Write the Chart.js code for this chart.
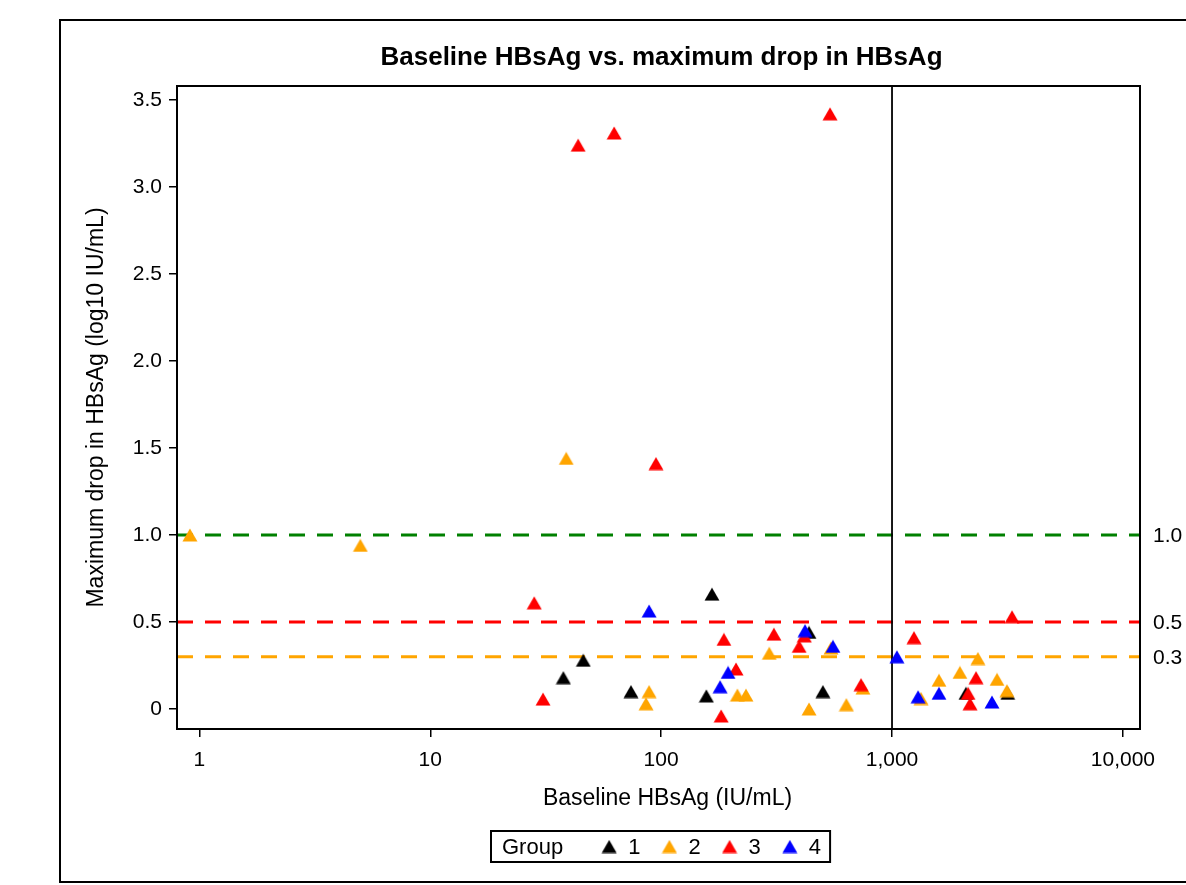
<!DOCTYPE html>
<html>
<head>
<meta charset="utf-8">
<script src="https://cdn.jsdelivr.net/npm/chart.js@4/dist/chart.umd.min.js"></script>
<style>
  html, body { margin: 0; padding: 0; background: #fff; }
  canvas { display: block; }
</style>
</head>
<body>
<canvas id="c" width="1186" height="885"></canvas>
<script>
// ---- Data ----
const groupNames = ['1', '2', '3', '4'];
const groupColors = ['#000000', '#FFA500', '#FF0000', '#0000FF'];

const g1Baseline = [37.7, 46, 74, 157, 166, 437, 502, 2090, 3170];
const g1Drop     = [0.18, 0.28, 0.10, 0.075, 0.66, 0.44, 0.10, 0.09, 0.09];

const g2Baseline = [0.91, 4.98, 38.8, 86, 88.7, 214, 233, 294, 437, 544, 634, 748, 1336, 1597, 1968, 2355, 2850, 3145];
const g2Drop     = [1.0, 0.94, 1.44, 0.03, 0.10, 0.08, 0.08, 0.32, 0.0, 0.35, 0.025, 0.12, 0.06, 0.165, 0.21, 0.29, 0.17, 0.105];

const g3Baseline = [28.2, 30.8, 43.7, 62.6, 95, 182, 187, 211, 308, 396, 417, 539, 734, 1245, 2135, 2177, 2312, 3310];
const g3Drop     = [0.61, 0.057, 3.24, 3.31, 1.41, -0.04, 0.40, 0.23, 0.43, 0.36, 0.42, 3.42, 0.14, 0.41, 0.09, 0.03, 0.18, 0.53];

const g4Baseline = [88.7, 180, 195, 420, 555, 1050, 1297, 1597, 2710];
const g4Drop     = [0.563, 0.128, 0.21, 0.45, 0.36, 0.30, 0.07, 0.09, 0.04];

const xTickValues = [1, 10, 100, 1000, 10000];
const yTickValues = [0, 0.5, 1.0, 1.5, 2.0, 2.5, 3.0, 3.5];

const refLineValues = [1.0, 0.5, 0.3];
const refLineLabels = ['1.0', '0.5', '0.3'];
const refLineColors = ['#008000', '#FF0000', '#FFA500'];
const vertLineValue = 1000;

const chartTitle = 'Baseline HBsAg vs. maximum drop in HBsAg';
const xTitle = 'Baseline HBsAg (IU/mL)';
const yTitle = 'Maximum drop in HBsAg (log10 IU/mL)';
const legendTitle = 'Group';

// ---- Helpers ----
const FONT = '"Liberation Sans", Arial, Helvetica, sans-serif';

function makeTriangle(color) {
  const c = document.createElement('canvas');
  c.width = 16; c.height = 14;
  const x = c.getContext('2d');
  x.fillStyle = color;
  x.beginPath();
  x.moveTo(0.5, 13.5);
  x.lineTo(15.5, 13.5);
  x.lineTo(8, 0.5);
  x.closePath();
  x.fill();
  return c;
}

const baselines = [g1Baseline, g2Baseline, g3Baseline, g4Baseline];
const drops = [g1Drop, g2Drop, g3Drop, g4Drop];
const triangles = groupColors.map(makeTriangle);

const datasets = groupNames.map((name, i) => ({
  label: name,
  data: baselines[i].map((b, k) => ({ x: b, y: drops[i][k] })),
  pointStyle: triangles[i],
  backgroundColor: groupColors[i],
  borderColor: groupColors[i],
  pointRadius: 8,
  pointHoverRadius: 8,
  showLine: false,
  order: groupNames.length - i
}));

// ---- Plugin: frame, title, reference lines, box, right labels, legend ----
const decorPlugin = {
  id: 'decor',
  beforeDraw(chart) {
    const ctx = chart.ctx;
    ctx.save();
    ctx.fillStyle = '#fff';
    ctx.fillRect(0, 0, chart.width, chart.height);
    ctx.strokeStyle = '#000';
    ctx.lineWidth = 2;
    ctx.strokeRect(60, 20, chart.width + 20, 862);
    ctx.restore();
  },
  beforeDatasetsDraw(chart) {
    const ctx = chart.ctx;
    const a = chart.chartArea;
    const ys = chart.scales.y, xs = chart.scales.x;
    ctx.save();
    ctx.beginPath();
    ctx.rect(a.left, a.top, a.right - a.left, a.bottom - a.top);
    ctx.clip();
    refLineValues.forEach((v, i) => {
      const py = ys.getPixelForValue(v);
      ctx.strokeStyle = refLineColors[i];
      ctx.lineWidth = 3;
      ctx.setLineDash([16, 12]);
      ctx.beginPath();
      ctx.moveTo(a.left, py);
      ctx.lineTo(a.right, py);
      ctx.stroke();
    });
    ctx.setLineDash([]);
    const px = xs.getPixelForValue(vertLineValue);
    ctx.strokeStyle = '#000';
    ctx.lineWidth = 1.8;
    ctx.beginPath();
    ctx.moveTo(px, a.top);
    ctx.lineTo(px, a.bottom);
    ctx.stroke();
    ctx.restore();
  },
  afterDraw(chart) {
    const ctx = chart.ctx;
    const a = chart.chartArea;
    const ys = chart.scales.y;
    ctx.save();
    // title
    ctx.fillStyle = '#000';
    ctx.font = 'bold 26px ' + FONT;
    ctx.textAlign = 'center';
    ctx.textBaseline = 'middle';
    ctx.fillText(chartTitle, (a.left + a.right) / 2 + 3, 58);
    // x axis title
    ctx.font = '23px ' + FONT;
    ctx.fillText(xTitle, (a.left + a.right) / 2 + 9, 799);
    // plot box
    ctx.strokeStyle = '#000';
    ctx.lineWidth = 2;
    ctx.strokeRect(a.left, a.top, a.right - a.left, a.bottom - a.top);
    // right-side labels
    ctx.font = '21px ' + FONT;
    ctx.textAlign = 'left';
    ctx.textBaseline = 'middle';
    refLineValues.forEach((v, i) => {
      ctx.fillText(refLineLabels[i], a.right + 13, ys.getPixelForValue(v) + 1);
    });
    // legend
    ctx.font = '22px ' + FONT;
    const boxLeft = 491, boxTop = 831, boxH = 31;
    const midY = boxTop + boxH / 2 + 1;
    let x = boxLeft + 11;
    ctx.fillText(legendTitle, x, midY);
    x += ctx.measureText(legendTitle).width + 46;
    chart.data.datasets.forEach((ds, i) => {
      const img = ds.pointStyle;
      ctx.drawImage(img, x - img.width / 2, midY - 1 - img.height / 2);
      const lx = x + 19;
      ctx.fillText(ds.label, lx, midY);
      const w = ctx.measureText(ds.label).width;
      if (i < chart.data.datasets.length - 1) x = lx + w + 29;
      else x = lx + w + 9;
    });
    ctx.lineWidth = 2;
    ctx.strokeRect(boxLeft, boxTop, x - boxLeft, boxH);
    ctx.restore();
  }
};

new Chart(document.getElementById('c'), {
  type: 'scatter',
  data: { datasets },
  plugins: [decorPlugin],
  options: {
    responsive: false,
    animation: false,
    events: [],
    layout: { padding: { left: 0, right: 46, top: 86, bottom: 0 } },
    plugins: {
      legend: { display: false },
      tooltip: { enabled: false },
      title: { display: false }
    },
    scales: {
      x: {
        type: 'logarithmic',
        min: 0.8,
        max: 11860,
        afterBuildTicks: (s) => { s.ticks = xTickValues.map(v => ({ value: v })); },
        afterFit: (s) => { s.height = 156; },
        ticks: {
          autoSkip: false,
          maxRotation: 0,
          color: '#000',
          padding: 11,
          font: { family: FONT, size: 21 },
          callback: (v) => Number(v).toLocaleString('en-US')
        },
        grid: { drawOnChartArea: false, drawTicks: true, tickLength: 8, color: '#000', lineWidth: 1.5 },
        border: { display: true, color: '#000', width: 2 },
        title: { display: false, text: xTitle }
      },
      y: {
        type: 'linear',
        min: -0.115,
        max: 3.58,
        afterBuildTicks: (s) => { s.ticks = yTickValues.map(v => ({ value: v })); },
        afterFit: (s) => { s.width = 177; },
        ticks: {
          autoSkip: false,
          color: '#000',
          padding: 7,
          font: { family: FONT, size: 21 },
          callback: (v) => (v === 0 ? '0' : Number(v).toFixed(1))
        },
        grid: { drawOnChartArea: false, drawTicks: true, tickLength: 8, color: '#000', lineWidth: 1.5 },
        border: { display: true, color: '#000', width: 2 },
        title: {
          display: true,
          text: yTitle,
          color: '#000',
          font: { family: FONT, size: 23 },
          padding: { top: 83, bottom: 0 }
        }
      }
    }
  }
});
</script>
</body>
</html>
